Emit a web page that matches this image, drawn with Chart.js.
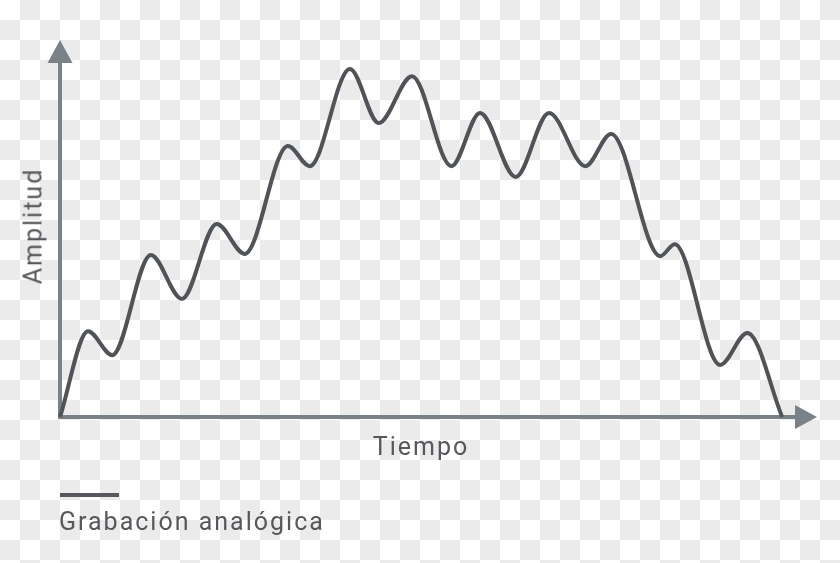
<!DOCTYPE html>
<html>
<head>
<meta charset="utf-8">
<script src="https://cdn.jsdelivr.net/npm/chart.js@4"></script>
<style>
  html, body {
    margin: 0;
    padding: 0;
    width: 840px;
    height: 563px;
    overflow: hidden;
    background: repeating-conic-gradient(#ebebeb 0 25%, #ffffff 0 50%) 0 0 / 40px 40px;
    font-family: Roboto, "Noto Sans", sans-serif;
  }
  #wrap { position: relative; width: 840px; height: 563px; }
  #chart { position: absolute; left: 0; top: 0; }
  .lbl { position: absolute; color: #55585c; font-size: 25px; letter-spacing: 2px; white-space: nowrap; line-height: 1; }
  #xTitle { left: 421px; top: 434px; transform: translateX(-50%); }
  #yTitle { left: 33px; top: 226px; transform: translate(-50%, -50%) rotate(-90deg); }
  #legLine { position: absolute; left: 60px; top: 493px; width: 59px; height: 4px; background: #55585c; }
  #legText { left: 59px; top: 509px; }
</style>
</head>
<body>
<div id="wrap">
  <canvas id="chart" width="840" height="563"></canvas>
  <div class="lbl" id="xTitle">Tiempo</div>
  <div class="lbl" id="yTitle">Amplitud</div>
  <div id="legLine"></div>
  <div class="lbl" id="legText">Grabación analógica</div>
</div>
<script>
// time (0-100) and amplitude (0-100), peaks and troughs
const tiempo = [0, 3.7, 6.9, 12.0, 16.1, 20.7, 24.4, 30.1, 33.0, 38.3, 42.1, 46.5,
  51.7, 55.5, 60.2, 64.6, 69.4, 72.8, 79.3, 81.2, 87.2, 90.8, 95.4];
const amplitud = [0, 22.9, 16.5, 43.2, 31.5, 51.5, 43.5, 72.3, 66.9, 92.8, 78.4, 90.9,
  66.9, 81.1, 64.0, 81.1, 66.9, 75.5, 42.9, 46.1, 13.9, 22.4, 0];
const serieNombre = "Grabación analógica";

const axisColor = "#7a8289";
const lineColor = "#505357";

// axes with arrow heads, drawn on the chart area edges
const arrowAxes = {
  id: "arrowAxes",
  beforeDatasetsDraw(chart) {
    const { ctx, chartArea: a } = chart;
    ctx.save();
    ctx.strokeStyle = axisColor;
    ctx.fillStyle = axisColor;
    ctx.lineWidth = 4;
    ctx.beginPath();
    ctx.moveTo(a.left, a.top + 20);
    ctx.lineTo(a.left, a.bottom);
    ctx.lineTo(a.right - 20, a.bottom);
    ctx.stroke();
    // up arrow
    ctx.beginPath();
    ctx.moveTo(a.left, a.top - 2);
    ctx.lineTo(a.left - 12.5, a.top + 21);
    ctx.lineTo(a.left + 12.5, a.top + 21);
    ctx.closePath();
    ctx.fill();
    // right arrow
    ctx.beginPath();
    ctx.moveTo(a.right, a.bottom);
    ctx.lineTo(a.right - 22, a.bottom - 12);
    ctx.lineTo(a.right - 22, a.bottom + 12);
    ctx.closePath();
    ctx.fill();
    ctx.restore();
  },
};

new Chart(document.getElementById("chart"), {
  type: "line",
  data: {
    datasets: [
      {
        label: serieNombre,
        data: tiempo.map((t, i) => ({ x: t, y: amplitud[i] })),
        borderColor: lineColor,
        borderWidth: 4,
        pointRadius: 0,
        cubicInterpolationMode: "monotone",
        clip: false,
        fill: false,
      },
    ],
  },
  options: {
    responsive: false,
    animation: false,
    layout: { padding: { left: 60, right: 23, top: 42, bottom: 146 } },
    plugins: { legend: { display: false }, tooltip: { enabled: false } },
    scales: {
      x: { type: "linear", min: 0, max: 100, display: false },
      y: { min: 0, max: 100, display: false },
    },
  },
  plugins: [arrowAxes],
});
</script>
</body>
</html>
